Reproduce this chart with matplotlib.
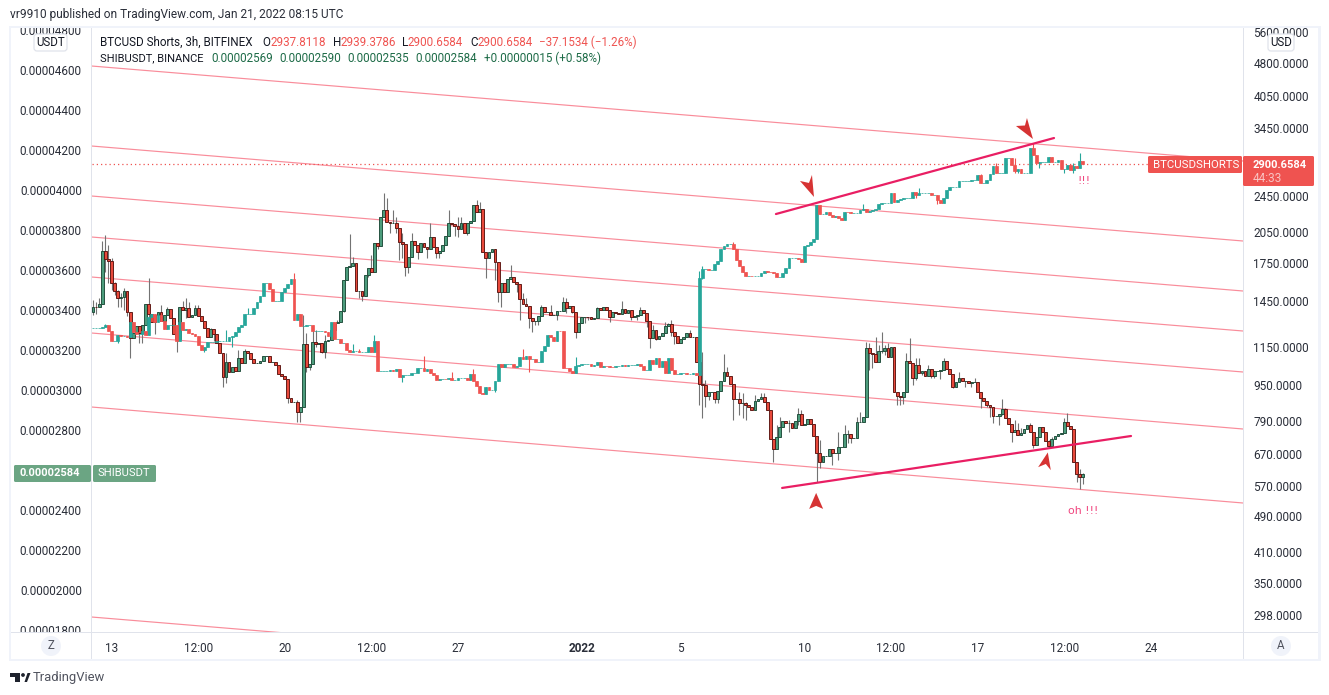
import numpy as np
import pandas as pd
import matplotlib
matplotlib.use("Agg")
import matplotlib.pyplot as plt
from matplotlib.patches import Rectangle, FancyBboxPatch, Circle, Polygon
from matplotlib.transforms import Affine2D
from matplotlib.ticker import FixedLocator, FixedFormatter, NullLocator

plt.rcParams['font.family'] = ['Roboto', 'DejaVu Sans']

# ---------- data ----------
BAR_START = "2021-12-12 06:00"
SHIB_FIRST_OPEN = 3397
SHIB_CLOSE = [  # in 1e-8 USDT
    3422,3418,3435,3700,3658,3648,3538,3502,3463,3468,
    3502,3393,3263,3292,3325,3288,3330,3433,3385,3345,
    3380,3397,3352,3380,3408,3363,3285,3258,3418,3405,
    3413,3368,3380,3413,3375,3352,3313,3272,3308,3283,
    3238,3192,3072,3147,3097,3118,3102,3163,3138,3202,
    3188,3158,3138,3138,3152,3175,3175,3143,3147,3130,
    3085,3076,3058,2963,2943,2946,2893,2921,3235,3122,
    3135,3247,3235,3238,3197,3252,3255,3305,3338,3343,
    3402,3555,3618,3625,3638,3502,3502,3477,3580,3613,
    3597,3738,3725,3868,3905,3847,3838,
    3838,3813,3747,3733,3618,3668,3752,3728,3693,3738,
    3722,3708,3772,3718,3688,3700,3730,3777,3842,3833,
    3825,3808,3838,3788,3838,3848,3928,3893,3908,3697,
    3663,3693,3708,3643,3493,3538,3493,3560,3568,3547,
    3533,3458,3435,3427,3363,3352,3352,3375,3418,3393,
    3393,3378,3378,3402,3402,3443,3417,3427,3393,3297,
    3338,3372,3372,3370,3358,3367,3413,3403,3418,3403,
    3372,3393,3388,3385,3408,3388,3403,3372,3375,3378,
    3403,3388,3350,3267,3305,3258,3275,3288,3325,3337,
    3297,3275,3242,3260,3268,3288,3268,3268,3147,3035,
    3030,2977,2997,2997,2958,3000,3050,3097,3075,3035,
    2958,2962,2938,2938,2930,2918,2903,2951,2962,2968,
    2946,2905,2758,2708,2771,2818,2851,2838,2841,2813,
    2851,2883,2828,2833,2858,2833,2776,2688,2643,2675,
    2675,2708,2688,2691,2718,2718,2783,2783,2763,2766,
    2843,2843,2871,3213,3191,3186,3147,3198,3198,3213,3168,
    3218,2993,2977,2968,2993,3150,3138,3063,3130,3088,
    3102,3077,3108,3075,3102,3102,3103,3148,3108,3083,
    3022,3043,3063,3050,3052,3038,3045,3047,2997,2963,
    2952,2928,2922,2877,2877,2885,2910,2863,2835,2793,
    2803,2778,2788,2808,2828,2793,2730,2772,2818,2797,
    2752,2727,2758,2775,2785,2788,2843,2823,2812,2647,
    2583,2572,2584,
]
SHIB_HIGHS = {
    0:3455,1:3447,2:3463,3:3752,4:3780,5:3730,6:3663,7:3547,8:3505,9:3488,10:3513,
    18:3563,22:3430,24:3420,28:3422,29:3450,30:3463,31:3447,33:3430,34:3430,38:3313,
    43:3190,47:3205,49:3210,66:2955,68:3380,69:3288,71:3313,72:3305,75:3280,79:3355,
    83:3785,84:3672,90:3680,93:3810,94:3988,95:3963,
    97:3905,98:3872,100:3788,103:3788,109:3838,115:3905,118:3872,119:3872,124:3955,
    125:3947,135:3630,139:3488,140:3463,145:3430,148:3430,152:3468,153:3463,163:3422,
    171:3450,177:3422,180:3330,181:3330,185:3347,186:3342,187:3355,193:3305,
    197:3197,198:3055,204:3185,205:3122,209:2997,210:2988,211:2946,214:2980,216:2988,
    217:2988,221:2830,222:2871,225:2855,228:2913,229:2905,234:2746,235:2755,238:2705,
    241:2796,243:2830,244:2805,247:2871,248:2896,250:3247,251:3238,253:3272,254:3230,
    255:3297,256:3230,257:3238,263:3188,264:3263,266:3163,267:3163,270:3130,275:3163,
    280:3097,285:3063,294:2958,295:2913,296:2863,298:2855,299:2838,300:2813,303:2838,
    309:2755,310:2772,314:2863,315:2888,319:2608,320:2590,
}
SHIB_LOWS = {
    0:3380,1:3385,4:3597,5:3538,6:3505,7:3480,8:3422,9:3422,10:3405,11:3375,12:3163,
    15:3241,16:3241,18:3330,20:3285,23:3330,27:3196,30:3363,39:3250,42:3022,43:3041,
    63:2938,66:2846,67:2846,68:3047,69:3097,70:3105,72:3222,74:3188,75:3163,80:3355,
    81:3395,86:3463,87:3450,89:3572,92:3708,96:3792,
    98:3788,99:3655,100:3663,101:3575,102:3592,105:3660,108:3663,111:3663,112:3663,
    117:3777,118:3772,121:3780,127:3563,130:3555,131:3447,132:3418,137:3497,138:3355,
    141:3313,142:3297,143:3330,144:3330,150:3355,153:3388,155:3388,156:3263,159:3338,
    160:3355,167:3347,174:3355,176:3355,179:3322,180:3217,182:3255,187:3275,188:3235,
    189:3238,196:2930,
    197:2863,198:2922,199:2955,201:2938,202:2938,207:2855,209:2880,210:2863,211:2855,
    220:2646,225:2797,228:2830,234:2546,235:2613,239:2630,241:2655,244:2738,245:2738,
    251:3105,252:3113,253:3147,255:3188,256:3180,257:3188,
    260:2930,261:2930,262:2935,265:3030,266:3055,268:3080,271:3063,272:3063,274:3058,
    278:3013,279:3018,282:3022,284:3018,287:2913,289:2922,290:2872,291:2838,293:2830,
    294:2880,297:2747,304:2713,305:2730,310:2722,315:2830,318:2547,319:2510,320:2535,
}
BTC_FIRST_OPEN = 1269
BTC_CLOSE = [
    1269,1269,1269,1275,1286,1250,1188,1188,1229,1218,
    1218,1212,1308,1243,1233,1233,1254,1229,1342,1360,
    1308,1354,1315,1265,1286,1290,1290,1192,1308,1258,
    1265,1237,1233,1218,1168,1137,1152,1182,1182,1182,
    1188,1188,1188,1192,1212,1222,1243,1279,1290,1360,
    1365,1365,1407,1448,1491,1590,1590,1542,1453,1453,
    1453,1524,1550,1582,1622,1319,1360,1281,1281,1286,
    1290,1250,1250,1254,1254,1243,1222,1308,1202,1202,
    1176,1176,1137,1127,1129,1129,1127,1127,1127,1156,
    1125,1192,1023,1023,1023,1023,1027,1023,1033,992,
    1002,1002,1002,1012,1012,1041,1041,1023,1033,1015,
    1002,978,981,985,981,989,978,978,986,986,
    986,980,1006,973,950,914,911,946,931,931,
    973,1062,1044,1058,1058,1058,1046,1049,1099,1089,
    1105,1085,1085,1071,1071,1133,1162,1227,1212,1192,
    1250,1248,1041,1036,1023,1015,1049,1054,1058,1058,
    1058,1049,1053,1071,1046,1049,1048,1046,1044,1048,
    1049,1054,1051,1056,1056,1056,1058,1048,1030,1030,
    1082,1058,1091,1044,1076,1015,1091,1030,1006,1010,
    1015,1015,1006,1010,1015,1002,1630,1711,1711,1703,
    1703,1752,1782,1887,1918,1934,1937,1893,1788,1735,
    1686,1652,1652,1650,1650,1650,1672,1691,1686,1680,
    1672,1639,1639,1672,1714,1803,1803,1809,1794,1773,
    1918,1928,1960,1984,2357,2253,2253,2272,2245,2219,
    2226,2211,2182,2280,2272,2260,2260,2268,2299,2307,
    2280,2287,2299,2307,2372,2377,2379,2387,2502,2399,
    2419,2431,2440,2440,2448,2514,2473,2502,2502,2502,
    2502,2481,2481,2419,2387,2440,2536,2587,2587,2587,
    2657,2657,2662,2666,2675,2680,2742,2630,2639,2675,
    2752,2869,2766,2766,2766,2987,2987,2884,2803,2821,
    2775,2775,2775,3136,3033,2908,2932,2932,2932,3007,
    2923,2932,2957,2821,2821,2884,2812,2869,2836,2937.8118,
    2900.6584,
]
BTC_HIGHS = {4:1297,43:1258,50:1407,65:1672,84:1172,86:1142,91:1229,107:1105,116:1018,
             123:1033,139:1145,156:1099,196:1691,197:1734,207:1960,249:2372,267:2565,
             287:2752,292:2908,298:2987,304:3216,317:2908,319:3058,320:2939.3786}
BTC_LOWS = {8:1180,36:1123,45:1155,100:966,130:922,141:1020,197:1628,266:2440,273:2366,
            298:2766,299:2766,306:2836,314:2775,317:2775,320:2900.6584}

LEFT_TICKS = [4800,4600,4400,4200,4000,3800,3600,3400,3200,3000,2800,2600,2400,2200,2000,1800]
RIGHT_TICKS = [5600,4800,4050,3450,2450,2050,1750,1450,1150,950,790,670,570,490,410,350,298]
TIME_TICK_DATES = ["2021-12-13 00:00","2021-12-16 12:00","2021-12-20 00:00","2021-12-23 12:00",
                   "2021-12-27 00:00","2022-01-01 00:00","2022-01-05 00:00","2022-01-10 00:00",
                   "2022-01-13 12:00","2022-01-17 00:00","2022-01-20 12:00","2022-01-24 00:00"]
TIME_TICK_LABELS = ["13","12:00","20","12:00","27","2022","5","10","12:00","17","12:00","24"]

# Parallel channel, SHIB price at the two ends of the time span
CHANNEL_LEFT  = [4625,4225,3975,3770,3570,3290,2920,1870]
CHANNEL_RIGHT = [4150,3750,3500,3300,3095,2810,2440,1395]
# Drawn trend lines, on the BTC shorts scale (bar number, price)
TREND_UP_X, TREND_UP_Y = [220.8, 310.7], [2253, 3302]
TREND_LOW_X, TREND_LOW_Y = [222.8, 335.6], [568, 737.6]
ARROW_X = [233.1, 303.9, 233.8, 308.7]
ARROW_Y = [2455, 3286, 554, 679]
NOTE_X = [320.4, 320.0]
NOTE_Y = [2660, 506]
NOTE_TEXT = ["!!!", "oh !!!"]

# ---------- layout ----------
W, H = 1329, 695
PX = 3.093
fig = plt.figure(figsize=(W/100, H/100), dpi=100, facecolor="white")
L, R, T, B = 91.5, 1243.0, 27.0, 632.0
ax = fig.add_axes([L/W, 1-B/H, (R-L)/W, (B-T)/H], facecolor="white")
ax2 = ax.twinx()
x0 = -(93-L)/PX
x1 = (R-93)/PX
ax.set_xlim(x0, x1)
ax.set_ylim(1795e-8, 4820e-8)
ax2.set_yscale("log")
ax2.set_ylim(275.2, 5772)
ax2.set_xlim(x0, x1)
ax2.patch.set_visible(False)
for a in (ax, ax2):
    for s in a.spines.values():
        s.set_visible(False)

TXT = "#131722"
FS = 8.5
ax.yaxis.set_major_locator(FixedLocator([v*1e-8 for v in LEFT_TICKS]))
ax.yaxis.set_major_formatter(FixedFormatter([f"{v*1e-8:.8f}" for v in LEFT_TICKS]))
ax.tick_params(axis="y", length=0, pad=7, labelsize=FS, labelcolor="#2a2e39")
ax2.yaxis.set_major_locator(FixedLocator(RIGHT_TICKS))
ax2.yaxis.set_major_formatter(FixedFormatter([f"{v:.4f}" for v in RIGHT_TICKS]))
ax2.yaxis.set_minor_locator(NullLocator())
ax2.tick_params(axis="y", length=0, pad=7.5, labelsize=FS, labelcolor="#2a2e39")
for a in (ax, ax2):
    for lab in a.get_yticklabels():
        lab.set_transform(lab.get_transform() + Affine2D().translate(0, 1))

start = pd.Timestamp(BAR_START)
tick_pos = [(pd.Timestamp(d)-start)/pd.Timedelta(hours=3) for d in TIME_TICK_DATES]
ax.set_xticks(tick_pos)
ax.set_xticklabels(TIME_TICK_LABELS)
ax.tick_params(axis="x", length=0, pad=7.2, labelsize=FS, labelcolor="#2a2e39")
for lbl, txt in zip(ax.get_xticklabels(), TIME_TICK_LABELS):
    if txt == "2022":
        lbl.set_fontweight("bold")

# channel
for l, r in zip(CHANNEL_LEFT, CHANNEL_RIGHT):
    ax.plot([x0, x1], [l*1e-8, r*1e-8], color="#f98c9a", lw=0.85, zorder=1, solid_capstyle="butt")

# candles
def ohlc(close, first_open, highs, lows):
    c = np.asarray(close, float)
    o = np.r_[first_open, c[:-1]]
    h = np.maximum(o, c)
    l = np.minimum(o, c)
    for k, v in highs.items():
        h[k] = max(h[k], v)
    for k, v in lows.items():
        l[k] = min(l[k], v)
    return o, h, l, c

so, sh, sl, sc = ohlc(SHIB_CLOSE, SHIB_FIRST_OPEN, SHIB_HIGHS, SHIB_LOWS)
idx = np.arange(len(sc))
ax.vlines(idx, sl*1e-8, sh*1e-8, color="#737373", lw=0.8, zorder=2)
up = sc >= so
ax.bar(idx[up], (sc-so)[up]*1e-8, bottom=so[up]*1e-8, width=0.9,
       facecolor="#4c9c7c", edgecolor="#1d4a38", lw=0.65, zorder=3)
ax.bar(idx[~up], (sc-so)[~up]*1e-8, bottom=so[~up]*1e-8, width=0.9,
       facecolor="#e8493b", edgecolor="#5a1410", lw=0.65, zorder=3)

bo, bh, bl, bc = ohlc(BTC_CLOSE, BTC_FIRST_OPEN, BTC_HIGHS, BTC_LOWS)
bidx = np.arange(len(bc))
bup = bc >= bo
TEAL, RED = "#26a69a", "#ef5350"
ax2.vlines(bidx[bup], bl[bup], bh[bup], color=TEAL, lw=0.8, zorder=3)
ax2.vlines(bidx[~bup], bl[~bup], bh[~bup], color=RED, lw=0.8, zorder=3)
ax2.bar(bidx[bup], (bc-bo)[bup], bottom=bo[bup], width=0.9, facecolor=TEAL, edgecolor=TEAL, lw=0.5, zorder=4)
ax2.bar(bidx[~bup], (bc-bo)[~bup], bottom=bo[~bup], width=0.9, facecolor=RED, edgecolor=RED, lw=0.5, zorder=4)

# last price line
ax2.plot([x0, x1], [BTC_CLOSE[-1]]*2, color=RED, lw=0.9, ls=(0, (1, 2.4)), zorder=2)

# drawings
PINK = "#e91e63"
ax2.plot(TREND_UP_X, TREND_UP_Y, color=PINK, lw=1.6, zorder=6, solid_capstyle="round")
ax2.plot(TREND_LOW_X, TREND_LOW_Y, color=PINK, lw=1.6, zorder=6, solid_capstyle="round")
ARROW_SHAPES = [
    [(0,0),(-14,16),(-5,14),(-2,22)],
    [(0,0),(-17,13),(-8,13.5),(-6,21)],
    [(0,0),(-7,-16),(0,-13),(7,-16)],
    [(0,0),(-9.7,-14.7),(-2,-11.5),(3,-17.7)],
]
for ax_, ay_, verts in zip(ARROW_X, ARROW_Y, ARROW_SHAPES):
    px, py = ax2.transData.transform((ax_, ay_))
    ax2.add_patch(Polygon(verts, closed=True, facecolor="#d63333", edgecolor="none",
                          transform=Affine2D().translate(px, py), zorder=7))
for nx, ny, nt in zip(NOTE_X, NOTE_Y, NOTE_TEXT):
    ax2.text(nx, ny, nt, color="#f0457f", fontsize=7.9, family="DejaVu Sans", ha="center", va="center", zorder=7)

# ---------- chrome (figure level, in pixels) ----------
def fr(x0_, y0_, x1_, y1_, color, z=5):
    fig.add_artist(Rectangle((x0_/W, 1-y1_/H), (x1_-x0_)/W, (y1_-y0_)/H, transform=fig.transFigure,
                             facecolor=color, edgecolor="none", zorder=z))
def ft(x, y, s, color=TXT, size=8.6, ha="left", va="center", weight="normal", z=20):
    return fig.text(x/W, 1-y/H, s, color=color, fontsize=size, ha=ha, va=va, fontweight=weight, zorder=z)

fr(0, 0, W, T, "white")
fr(11, B, L, 659, "white")
fr(R+1, B, 1318, 659, "white")

BORDER = "#f0f3fa"
SEP = "#e0e3eb"
fr(9, 26, 1321, 28, BORDER, 6)
fr(9, 659, 1321, 661, BORDER, 6)
fr(9, 26, 11, 661, BORDER, 6)
fr(1318, 26, 1321, 661, BORDER, 6)
fr(91, 28, 92, 659, SEP, 6)
fr(1243, 28, 1244, 659, SEP, 6)
fr(11, 632, 1318, 633, SEP, 6)

def badge(x0_, y0_, x1_, y1_, s):
    fig.add_artist(FancyBboxPatch((x0_, H-y1_), x1_-x0_, y1_-y0_, boxstyle="round,pad=0,rounding_size=3",
                                  transform=None, facecolor="white", edgecolor=SEP, lw=0.9, zorder=8))
    ft((x0_+x1_)/2, (y0_+y1_)/2+0.5, s, ha="center", size=8.3)
badge(34, 34, 67, 51, "USDT")
badge(1268, 34, 1294, 51, "USD")

for cx, s in [(51, "Z"), (1281, "A")]:
    fig.add_artist(Circle((cx, H-646), 10, transform=None, facecolor=BORDER, edgecolor="none", zorder=8))
    ft(cx, 645.5, s, color="#50535e", ha="center", size=8.3)

def box(x0_, y0_, x1_, y1_, color):
    fig.add_artist(FancyBboxPatch((x0_, H-y1_), x1_-x0_, y1_-y0_, boxstyle="round,pad=0,rounding_size=1.5",
                                  transform=None, facecolor=color, edgecolor="none", zorder=9))
box(1148, 156, 1242, 173, RED)
ft(1153, 164.5, "BTCUSDSHORTS", color="white", size=8.2)
box(1243, 156, 1314, 186, RED)
ft(1253, 164.5, "2900.6584", color="white", size=8.0, weight="bold")
ft(1253, 178.5, "44:33", color="#f9c3c2", size=8.5)
GREEN = "#6ba583"
box(14, 465, 91, 482, GREEN)
ft(20, 473.5, "0.00002584", color="white", size=8.0, weight="bold")
box(93, 465, 156, 482, GREEN)
ft(97.5, 473.5, "SHIBUSDT", color="white", size=8.1)

ft(10, 14.5, "vr9910 published on TradingView.com, Jan 21, 2022 08:15 UTC", color="#2a2e39", size=8.6)
LEG_RED = "#ef5350"
LEG_GRN = "#1d6b47"
ft(100, 42, "BTCUSD Shorts, 3h, BITFINEX", size=8.4)
for x, s, c in [(262.6,"O",TXT),(270.6,"2937.8118",LEG_RED),(332.5,"H",TXT),(340,"2939.3786",LEG_RED),
                (402,"L",TXT),(408,"2900.6584",LEG_RED),(470,"C",TXT),(477.7,"2900.6584",LEG_RED),
                (538.7,"−37.1534 (−1.26%)",LEG_RED)]:
    ft(x, 42, s, color=c, size=8.4)
ft(100, 58.5, "SHIBUSDT, BINANCE", size=8.0)
for x, s in [(211,"0.00002569"),(279,"0.00002590"),(347.6,"0.00002535"),(415.8,"0.00002584"),
             (484,"+0.00000015 (+0.58%)")]:
    ft(x, 58.5, s, color=LEG_GRN, size=8.4)

LOGO = "#1e222d"
fr(10, 673, 20, 676.5, LOGO, 8)
fr(15, 673, 20, 682, LOGO, 8)
fig.add_artist(Circle((23, H-675), 1.9, transform=None, facecolor=LOGO, edgecolor="none", zorder=8))
fig.add_artist(Polygon([(24.5,H-682),(27.5,H-673),(30.5,H-673),(27,H-682)], closed=True, transform=None,
                       facecolor=LOGO, edgecolor="none", zorder=8))
ft(33, 677.5, "TradingView", color="#50535e", size=9.4)

fig.savefig("out.png", dpi=100, facecolor="white")
